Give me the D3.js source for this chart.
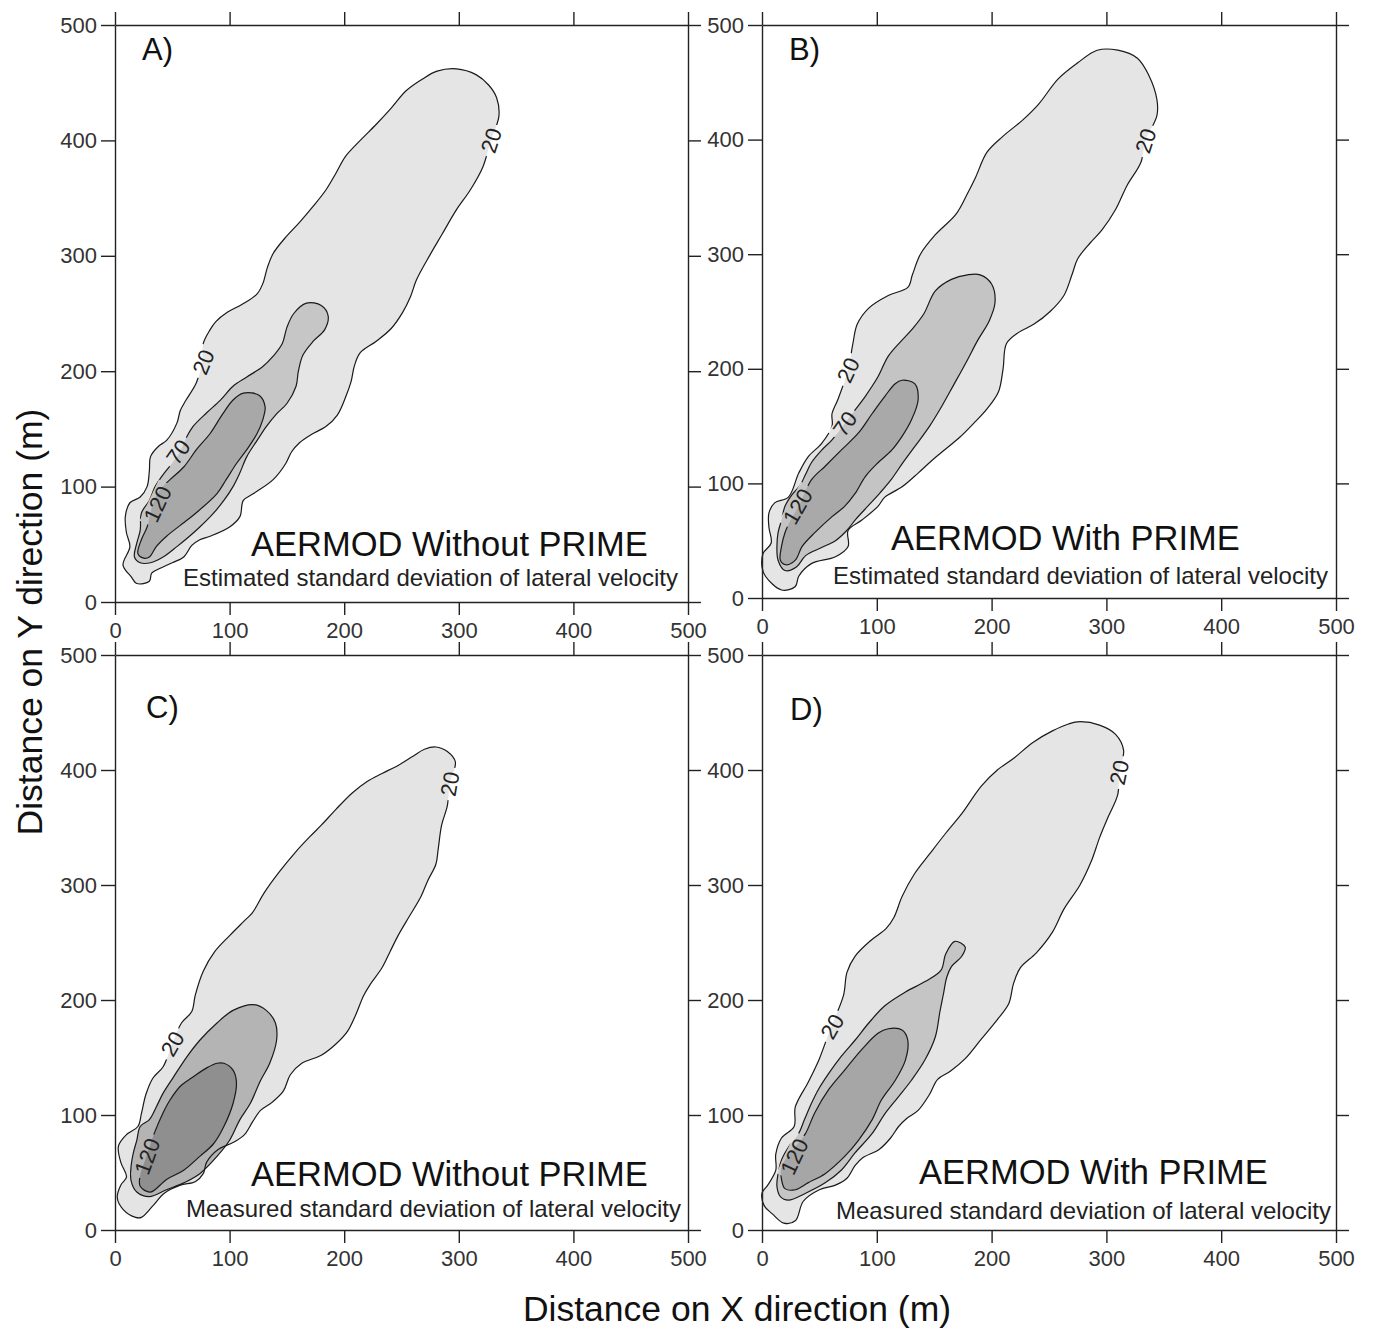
<!DOCTYPE html>
<html><head><meta charset="utf-8">
<script src="https://cdn.jsdelivr.net/npm/d3@7"></script>
<style>body{margin:0;background:#fff} text{font-family:"Liberation Sans",Arial,sans-serif}</style>
</head><body><svg id="chart" width="1374" height="1331"></svg>
<script>
// ---------------- data ----------------
const xTicks = [0, 100, 200, 300, 400, 500];
const yTicks = [0, 100, 200, 300, 400, 500];
const panelLetters = ["A)", "B)", "C)", "D)"];
const panelTitles = ["AERMOD Without PRIME", "AERMOD With PRIME", "AERMOD Without PRIME", "AERMOD With PRIME"];
const panelSubtitles = ["Estimated standard deviation of lateral velocity", "Estimated standard deviation of lateral velocity",
  "Measured standard deviation of lateral velocity", "Measured standard deviation of lateral velocity"];
const contourLevels = [20, 70, 120];
const xTitle = "Distance on X direction (m)";
const yTitle = "Distance on Y direction (m)";

// contour outlines (x, y in metres)
const A20 = [[19,16],[30,18],[32,25],[39,29],[50,34],[60,39],[67,49],[74,54],[83,57],[100,65],[109,74],[112,88],[121,94],[138,106],[149,120],[154,130],[161,138],[171,145],[184,152],[194,162],[201,177],[206,191],[209,205],[214,216],[228,226],[241,237],[251,251],[258,265],[263,279],[275,301],[285,318],[298,340],[310,357],[321,377],[328,400],[335,421],[333,437],[326,448],[315,457],[298,462],[281,460],[268,453],[254,443],[241,428],[228,414],[214,400],[201,386],[193,372],[184,357],[173,343],[161,329],[148,315],[138,302],[133,290],[129,276],[124,267],[111,258],[98,251],[88,243],[83,236],[77,224],[76,207],[71,190],[62,175],[57,166],[54,155],[45,140],[38,135],[31,126],[30,114],[28,100],[22,91],[13,86],[9,74],[10,60],[13,48],[7,32],[14,22]];
const A70 = [[167,259],[180,257],[186,248],[183,236],[173,226],[164,214],[160,200],[158,187],[150,172],[141,163],[132,152],[124,140],[115,126],[109,112],[103,100],[95,88],[86,77],[74,65],[65,57],[54,48],[42,39],[31,34],[22,34],[17,39],[19,51],[22,62],[23,77],[30,88],[35,100],[41,109],[48,118],[56,129],[62,142],[68,152],[80,164],[92,175],[103,187],[115,195],[129,204],[138,213],[146,224],[150,238],[156,250]];
const A120 = [[112,181],[126,179],[131,169],[129,158],[124,146],[115,132],[106,120],[97,106],[89,94],[74,80],[63,71],[45,57],[36,48],[30,39],[25,38],[20,42],[23,54],[28,65],[33,85],[39,97],[48,106],[60,117],[71,132],[83,146],[94,163],[103,175]];

const B20 = [[17,7],[29,10],[32,19],[43,30],[64,36],[75,45],[75,59],[87,68],[101,80],[107,88],[122,97],[136,109],[148,120],[160,130],[172,140],[184,152],[196,165],[206,180],[210,200],[213,222],[224,232],[237,239],[251,250],[263,264],[270,282],[275,296],[286,310],[296,321],[308,339],[318,360],[330,380],[334,399],[344,421],[344,435],[337,456],[327,471],[310,478],[292,478],[275,467],[258,453],[241,431],[227,417],[210,403],[196,389],[186,367],[179,353],[169,335],[151,317],[138,300],[131,282],[127,271],[110,264],[93,253],[83,239],[79,221],[75,199],[66,173],[61,161],[61,150],[52,135],[40,123],[32,109],[23,88],[11,83],[6,74],[6,62],[8,48],[1,39],[0,27],[3,19]];
const B70 = [[20,24],[30,27],[38,37],[52,44],[64,50],[73,58],[82,69],[93,81],[103,92],[113,104],[122,117],[133,132],[146,150],[157,168],[167,186],[178,206],[188,225],[198,242],[203,258],[200,274],[190,282],[179,282],[165,278],[151,268],[141,248],[132,236],[122,225],[110,211],[101,193],[90,176],[81,164],[72,152],[61,138],[52,129],[43,118],[38,108],[33,98],[26,90],[20,80],[17,68],[14,57],[13,45],[14,33]];
const B120 = [[122,190],[133,187],[136,173],[130,155],[122,141],[113,129],[101,118],[90,106],[81,91],[72,80],[61,71],[46,57],[35,45],[29,33],[21,29],[16,33],[17,45],[20,57],[26,70],[32,80],[43,103],[55,115],[69,129],[84,144],[96,161],[107,176],[116,187]];

const C20 = [[18,11],[23,11],[33,21],[43,32],[57,39],[70,42],[77,49],[80,59],[90,70],[103,76],[113,83],[120,94],[127,104],[137,111],[147,121],[153,135],[163,145],[180,152],[193,162],[203,173],[210,187],[217,204],[223,214],[233,228],[240,242],[247,256],[257,273],[267,290],[273,304],[280,318],[282,331],[285,352],[290,369],[292,388],[297,407],[290,416],[280,420],[270,418],[260,412],[247,404],[233,397],[220,390],[207,380],[193,366],[180,352],[170,342],[157,328],[143,311],[130,293],[120,276],[113,269],[100,256],[87,242],[77,225],[70,204],[67,190],[58,180],[50,162],[42,142],[33,132],[27,118],[23,101],[20,90],[10,83],[3,73],[5,59],[10,46],[5,39],[2,28],[7,18]];
const C70 = [[121,196],[132,191],[140,180],[141,165],[135,145],[127,130],[118,110],[109,96],[100,78],[89,64],[74,49],[60,41],[45,35],[30,29],[19,33],[14,43],[14,55],[16,67],[19,78],[22,90],[30,96],[36,107],[42,119],[51,133],[63,151],[74,165],[89,180],[103,191]];
const C120 = [[95,145],[103,139],[106,128],[103,110],[95,90],[86,75],[74,64],[60,52],[45,44],[31,33],[22,38],[22,48],[26,60],[30,72],[35,86],[42,102],[48,113],[57,125],[68,133],[80,141],[89,145]];

const D20 = [[19,6],[29,8],[36,25],[50,35],[64,39],[74,45],[81,56],[88,63],[102,70],[112,80],[119,90],[126,97],[136,104],[146,118],[153,131],[164,138],[177,149],[191,166],[205,183],[215,197],[219,214],[225,228],[239,241],[253,259],[263,279],[277,300],[287,321],[294,341],[301,358],[310,379],[311,398],[315,417],[308,431],[294,439],[277,442],[267,440],[253,434],[236,424],[219,410],[205,400],[191,386],[174,362],[160,345],[146,327],[133,310],[122,290],[115,272],[108,262],[95,252],[81,238],[74,224],[71,204],[60,176],[50,149],[45,138],[40,128],[29,107],[28,90],[17,80],[12,66],[12,52],[5,39],[0,32],[2,21],[9,14]];
const D70 = [[168,251],[177,246],[174,238],[165,229],[161,220],[158,205],[155,190],[151,168],[142,148],[130,130],[119,116],[107,101],[96,84],[81,67],[69,52],[55,41],[38,32],[23,26],[16,29],[13,38],[14,49],[17,61],[23,72],[32,84],[37,96],[43,110],[49,122],[58,136],[69,151],[81,165],[93,180],[107,195],[125,207],[142,216],[156,226],[160,240]];
const D120 = [[110,175],[122,174],[127,165],[125,148],[116,130],[104,113],[96,96],[84,78],[72,64],[55,49],[40,41],[29,35],[20,36],[17,44],[17,55],[24,66],[32,76],[38,84],[46,102],[58,122],[72,139],[87,157],[101,171]];

// contour labels: text, x, y (m), angle
const labelsA = [["20",328,400,-72],["20",77,208,-68],["70",55,130,-55],["120",37,85,-65]];
const labelsB = [["20",334,399,-72],["20",75,199,-65],["70",72,152,-55],["120",31,80,-60]];
const labelsC = [["20",292,388,-80],["20",50,162,-60],["120",28,64,-70]];
const labelsD = [["20",311,398,-78],["20",61,177,-60],["120",28,64,-65]];

// ---------------- layout ----------------
const panels = [
  {L:115, R:688, T:25, B:602, shapes:[A20,A70,A120], labels:labelsA, fills:["#e5e5e5","#c6c6c6","#a8a8a8"],
   letter:[142,60], title:[251,556], sub:[183,586]},
  {L:762, R:1336, T:25, B:598, shapes:[B20,B70,B120], labels:labelsB, fills:["#e5e5e5","#c4c4c4","#a9a9a9"],
   letter:[789,60], title:[891,550], sub:[833,584]},
  {L:115, R:688, T:655, B:1230, shapes:[C20,C70,C120], labels:labelsC, fills:["#e4e4e4","#b4b4b4","#8f8f8f"],
   letter:[146,718], title:[251,1186], sub:[186,1217]},
  {L:762, R:1336, T:655, B:1230, shapes:[D20,D70,D120], labels:labelsD, fills:["#e5e5e5","#c5c5c5","#a6a6a6"],
   letter:[790,720], title:[919,1184], sub:[836,1219]}
];

const svg = d3.select("#chart");
const defs = svg.append("defs");

panels.forEach((p, i) => {
  const x = d3.scaleLinear().domain([0, 500]).range([p.L, p.R]);
  const y = d3.scaleLinear().domain([0, 500]).range([p.B, p.T]);
  const g = svg.append("g");

  const line = d3.line().x(d => x(d[0])).y(d => y(d[1])).curve(d3.curveCatmullRomClosed.alpha(0.5));

  // fills
  p.shapes.forEach((s, k) => {
    g.append("path").attr("d", line(s)).attr("fill", p.fills[k]).attr("stroke", "none");
  });

  // mask for label gaps
  const mask = defs.append("mask").attr("id", "m" + i).attr("maskUnits", "userSpaceOnUse")
    .attr("x", 0).attr("y", 0).attr("width", 1374).attr("height", 1331);
  mask.append("rect").attr("width", 1374).attr("height", 1331).attr("fill", "#fff");
  p.labels.forEach(l => {
    const w = l[0].length * 12.5 + 8;
    mask.append("rect").attr("x", -w / 2).attr("y", -9).attr("width", w).attr("height", 18)
      .attr("fill", "#000")
      .attr("transform", `translate(${x(l[1])},${y(l[2])}) rotate(${l[3]})`);
  });

  const sg = g.append("g").attr("mask", `url(#m${i})`);
  p.shapes.forEach(s => {
    sg.append("path").attr("d", line(s)).attr("fill", "none").attr("stroke", "#1a1a1a").attr("stroke-width", 1.2);
  });

  // contour labels
  g.selectAll("text.cl").data(p.labels).enter().append("text")
    .attr("class", "cl")
    .attr("transform", l => `translate(${x(l[1])},${y(l[2])}) rotate(${l[3]})`)
    .attr("text-anchor", "middle").attr("dy", "0.36em")
    .attr("font-size", 22).attr("fill", "#222")
    .text(l => l[0]);

  // axes
  const axStyle = a => {
    a.selectAll("path.domain").attr("stroke", "#222").attr("stroke-width", 1.4);
    a.selectAll(".tick line").attr("stroke", "#222").attr("stroke-width", 1.4);
    a.selectAll(".tick text").attr("font-size", 22).attr("fill", "#333")
      .attr("font-family", '"Liberation Sans",Arial,sans-serif');
  };
  svg.append("g").attr("transform", `translate(0,${p.B})`)
    .call(d3.axisBottom(x).tickValues(xTicks).tickSize(13).tickSizeOuter(0).tickPadding(7).tickFormat(d3.format("d")))
    .call(axStyle);
  svg.append("g").attr("transform", `translate(${p.L},0)`)
    .call(d3.axisLeft(y).tickValues(yTicks).tickSize(14).tickSizeOuter(0).tickPadding(4).tickFormat(d3.format("d")))
    .call(axStyle);
  svg.append("g").attr("transform", `translate(0,${p.T})`)
    .call(d3.axisTop(x).tickValues(xTicks).tickSize(13).tickSizeOuter(0).tickFormat(""))
    .call(axStyle);
  svg.append("g").attr("transform", `translate(${p.R},0)`)
    .call(d3.axisRight(y).tickValues(yTicks).tickSize(13).tickSizeOuter(0).tickFormat(""))
    .call(axStyle);

  // annotations
  svg.append("text").attr("x", p.letter[0]).attr("y", p.letter[1]).attr("font-size", 31).attr("fill", "#111")
    .text(panelLetters[i]);
  svg.append("text").attr("x", p.title[0]).attr("y", p.title[1]).attr("font-size", 34.5).attr("fill", "#111")
    .text(panelTitles[i]);
  svg.append("text").attr("x", p.sub[0]).attr("y", p.sub[1]).attr("font-size", 24).attr("fill", "#222")
    .text(panelSubtitles[i]);
});

// axis titles
svg.append("text").attr("x", 737).attr("y", 1321).attr("text-anchor", "middle")
  .attr("font-size", 35.5).attr("fill", "#111").text(xTitle);
svg.append("text").attr("transform", "translate(42,622) rotate(-90)").attr("text-anchor", "middle")
  .attr("font-size", 35.5).attr("fill", "#111").text(yTitle);
</script></body></html>
